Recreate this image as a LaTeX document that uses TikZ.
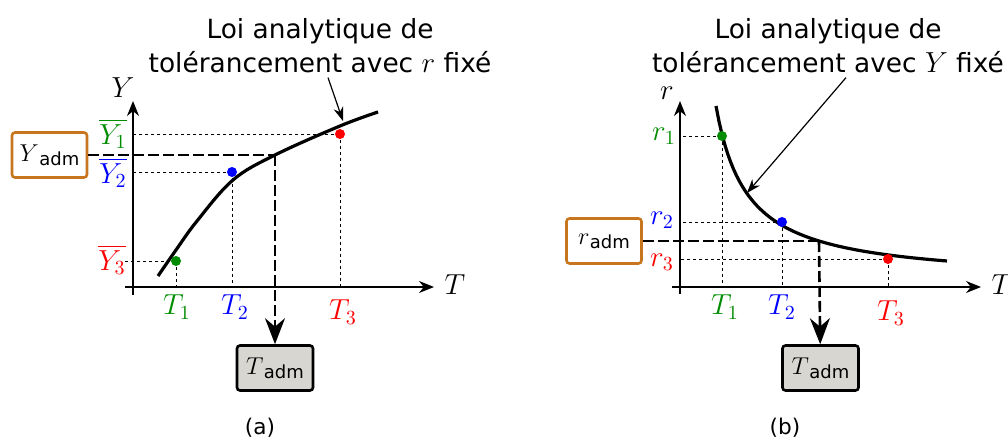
\documentclass[tikz,border=0pt]{standalone}
\usepackage{fix-cm}
\usepackage{amsmath}
\usepackage{fontspec}
\setmainfont{DejaVu Sans}
\usetikzlibrary{arrows.meta,positioning,calc}
\definecolor{ptgreen}{RGB}{0,140,0}
\definecolor{ptblue}{RGB}{0,0,255}
\definecolor{ptred}{RGB}{255,0,0}
\definecolor{admorange}{RGB}{200,118,30}
\definecolor{admgrey}{RGB}{216,214,208}
\DeclareMathSizes{13.2}{14.5}{10}{7.5}
\DeclareMathSizes{11.5}{12.2}{8.5}{6.5}
\newcommand{\admsym}[1]{$#1$\kern0.2pt\raisebox{-2pt}{\fontsize{9}{9}\selectfont adm}}

\begin{document}
\begin{tikzpicture}[x=0.5pt, y=-0.5pt,
    font=\fontsize{13.2}{17}\selectfont,
    >=Stealth,
    axisline/.style={line width=0.7pt, -{Stealth[length=7.5pt, width=6pt]}},
    axislabel/.style={inner sep=1pt},
    law/.style={line width=1.6pt},
    guide/.style={line width=0.5pt, dash pattern=on 1.5pt off 1.5pt},
    admline/.style={line width=1.3pt, dash pattern=on 5.5pt off 2pt},
    admbox/.style={rectangle, draw=admorange, fill=white, line width=1.3pt, rounded corners=1.5pt,
        minimum width=37.5pt, minimum height=22.5pt, inner sep=0pt, font=\fontsize{11.5}{14}\selectfont},
    resbox/.style={rectangle, draw=black, fill=admgrey, line width=1.3pt, rounded corners=1.5pt,
        minimum width=38pt, minimum height=22.5pt, inner sep=0pt, font=\fontsize{11.5}{14}\selectfont},
    ptdot/.style={circle, fill=#1, inner sep=0pt, minimum size=5pt},
    lawtext/.style={align=center, inner sep=0pt},
    pointer/.style={line width=0.6pt, -{Stealth[length=7pt, width=5pt]}},
    caption/.style={font=\fontsize{10.8}{13}\selectfont}
]
\useasboundingbox (0,0) rectangle (1008,439);

% (a) Y as a function of T, r fixed
\coordinate (oa) at (133,287);
\coordinate (ybota) at (133,295);
\coordinate (ytopa) at (133,101);
\coordinate (tlefta) at (125,287);
\coordinate (trighta) at (434,287);
\draw[axisline] (ybota) -- (ytopa);
\draw[axisline] (tlefta) -- (trighta);
\node[axislabel] (ylaba) at (123,88) {$Y$};
\node[axislabel] (tlaba) at (455,285) {$T$};

\coordinate (p1a) at (176,261);
\coordinate (p2a) at (232,172);
\coordinate (p3a) at (340,134);
\draw[guide] (p1a) -- (p1a -| tlefta);
\draw[guide] (p1a) -- (p1a |- oa);
\draw[guide] (p2a) -- (p2a -| oa);
\draw[guide] (p2a) -- (p2a |- oa);
\draw[guide] (p3a) -- (p3a -| oa);
\draw[guide] (p3a) -- (p3a |- oa);

\draw[law] plot[smooth, tension=0.6] coordinates {(158,276) (176,250) (197,221) (233,180) (275,155) (340,126) (378,112)};

\node[ptdot=ptgreen] (d1a) at (p1a) {};
\node[ptdot=ptblue] (d2a) at (p2a) {};
\node[ptdot=ptred] (d3a) at (p3a) {};

\node[text=ptgreen] (y1a) at (113,134) {$\overline{Y_1}$};
\node[text=ptblue] (y2a) at (113,173) {$\overline{Y_2}$};
\node[text=ptred] (y3a) at (112,260) {$\overline{Y_3}$};
\node[text=ptgreen] (t1a) at (177,307) {$T_1$};
\node[text=ptblue] (t2a) at (235,307) {$T_2$};
\node[text=ptred] (t3a) at (343,312) {$T_3$};

\node[lawtext] (lawa) at (320,46) {Loi analytique de\\tolérancement avec $r$ fixé};
\coordinate (tipa) at (343,121);
\draw[pointer] ([xshift=4pt,yshift=-2pt]lawa.south) -- (tipa);

\node[admbox] (yadm) at (49.5,155) {\admsym{Y}};
\coordinate (kneea) at (275,155);
\node[resbox] (tadma) at (275,368) {\admsym{T}};
\draw[admline] (yadm) -- (kneea);
\draw[admline, -{Stealth[length=13pt, width=10pt]}] (kneea) -- (tadma);

\node[caption] (capa) at (260,428) {(a)};

% (b) r as a function of T, Y fixed
\coordinate (ob) at (680,287);
\coordinate (rbotb) at (680,294);
\coordinate (rtopb) at (680,101);
\coordinate (tleftb) at (672,287);
\coordinate (trightb) at (981,287);
\draw[axisline] (rbotb) -- (rtopb);
\draw[axisline] (tleftb) -- (trightb);
\node[axislabel] (rlabb) at (667,93) {$r$};
\node[axislabel] (tlabb) at (1002,285) {$T$};

\coordinate (p1b) at (722,136);
\coordinate (p2b) at (782,222);
\coordinate (p3b) at (888,259);
\draw[guide] (p1b) -- (p1b -| ob);
\draw[guide] (p1b) -- (p1b |- ob);
\draw[guide] (p2b) -- (p2b -| ob);
\draw[guide] (p2b) -- (p2b |- ob);
\draw[guide] (p3b) -- (p3b -| ob);
\draw[guide] (p3b) -- (p3b |- ob);

\draw[law] plot[domain=716:947, samples=80] (\x, {282-5510/(\x-684.7)});

\node[ptdot=ptgreen] (d1b) at (p1b) {};
\node[ptdot=ptblue] (d2b) at (p2b) {};
\node[ptdot=ptred] (d3b) at (p3b) {};

\node[text=ptgreen] (r1b) at (664,136) {$r_1$};
\node[text=ptblue] (r2b) at (662,220) {$r_2$};
\node[text=ptred] (r3b) at (662,262) {$r_3$};
\node[text=ptgreen] (t1b) at (725,307) {$T_1$};
\node[text=ptblue] (t2b) at (782,307) {$T_2$};
\node[text=ptred] (t3b) at (891,313) {$T_3$};

\node[lawtext] (lawb) at (828,46) {Loi analytique de\\tolérancement avec $Y$ fixé};
\coordinate (tipb) at (747,193);
\draw[pointer] ([xshift=9pt,yshift=-2pt]lawb.south) -- (tipb);

\node[admbox] (radm) at (604,241) {\admsym{r}};
\coordinate (kneeb) at (819,241);
\node[resbox] (tadmb) at (820.5,368) {\admsym{T}};
\draw[admline] (radm) -- (kneeb);
\draw[admline, -{Stealth[length=13pt, width=10pt]}] (kneeb) -- (tadmb);

\node[caption] (capb) at (785,428) {(b)};
\end{tikzpicture}
\end{document}
